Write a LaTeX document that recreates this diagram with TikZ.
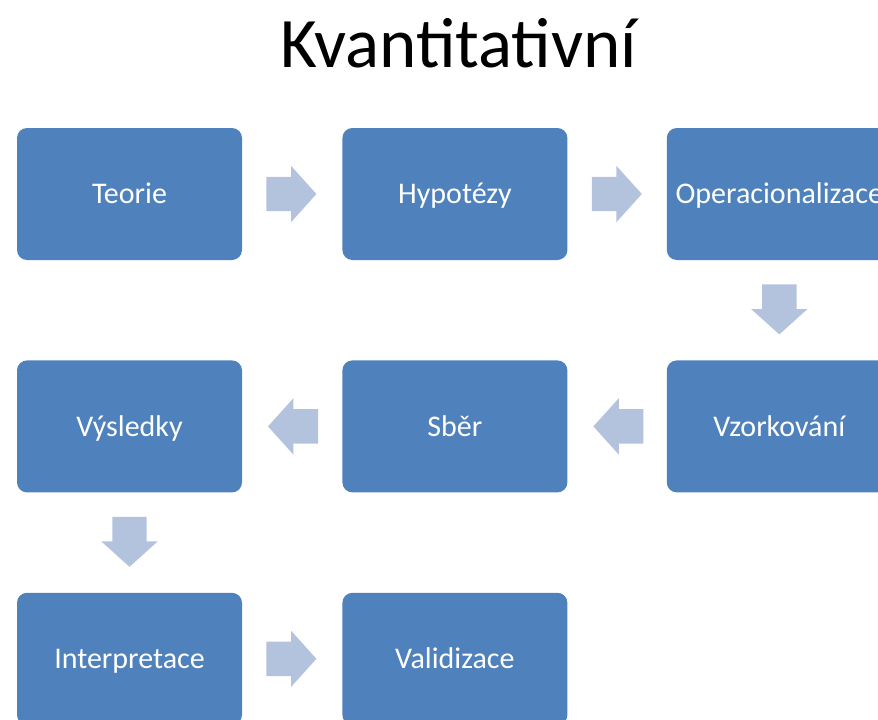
\documentclass[tikz,border=0pt]{standalone}
\usepackage{fontspec}
\setmainfont{Carlito}
\usepackage{xcolor}
\usepackage{tikz}
\usetikzlibrary{
  positioning,
  calc,
  shapes.arrows
}
\definecolor{boxblue}{HTML}{4F81BD}
\definecolor{arrowblue}{HTML}{B3C3DE}
\tikzset{
  stepbox/.style={fill=boxblue,draw=none,rounded corners=10pt,
    minimum width=225pt,minimum height=132pt,inner sep=0pt,
    text height=19.3pt,text depth=0pt,
    text=white,font=\fontsize{30}{36}\selectfont},
  blockarrow/.style={single arrow,fill=arrowblue,draw=none,
    inner xsep=0pt,inner ysep=17pt,anchor=tail,
    minimum height=50pt,
    single arrow head extend=11pt,single arrow tip angle=96}
}

\begin{document}
\begin{tikzpicture}[x=1pt,y=-1pt]
  % rámec
  \useasboundingbox (0,0) rectangle (878,720);
  \clip (0,0) rectangle (878,720);
  % nadpis
  \node[font=\fontsize{71}{84}\selectfont,anchor=base] (nadpis) at (459,67) {Kvantitativní};
  % kroky
  \node[stepbox] (teorie) at (129.5,194) {Teorie};
  \node[stepbox,right=100pt of teorie] (hypotezy) {Hypotézy};
  \node[stepbox,right=99pt of hypotezy] (operacionalizace) {Operacionalizace};
  \node[stepbox,below=100pt of operacionalizace] (vzorkovani) {Vzorkování};
  \node[stepbox,below=100pt of hypotezy] (sber) {Sběr};
  \node[stepbox,below=100pt of teorie] (vysledky) {Výsledky};
  \node[stepbox,below=100pt of vysledky] (interpretace) {Interpretace};
  \node[stepbox,right=100pt of interpretace] (validizace) {Validizace};
  % šipky
  \node[blockarrow] (s1) at ($(teorie.east)+(24,0)$) {};
  \node[blockarrow] (s2) at ($(hypotezy.east)+(24,0)$) {};
  \node[blockarrow,rotate=-90] (s3) at ($(operacionalizace.south)+(0,24)$) {};
  \node[blockarrow,rotate=180] (s4) at ($(vzorkovani.west)+(-23,0)$) {};
  \node[blockarrow,rotate=180] (s5) at ($(sber.west)+(-24,0)$) {};
  \node[blockarrow,rotate=-90] (s6) at ($(vysledky.south)+(0,24)$) {};
  \node[blockarrow] (s7) at ($(interpretace.east)+(24,0)$) {};
\end{tikzpicture}
\end{document}
